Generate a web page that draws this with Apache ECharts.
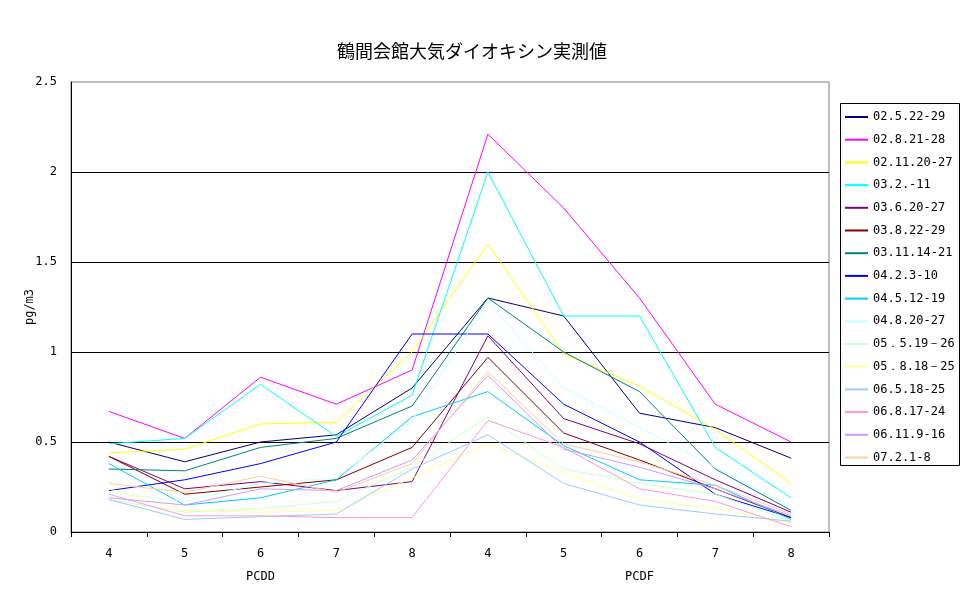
<!DOCTYPE html>
<html><head><meta charset="utf-8">
<script src="https://cdn.jsdelivr.net/npm/echarts@6/dist/echarts.min.js"></script>
<style>html,body{margin:0;padding:0;background:#fff}#c{width:970px;height:604px}</style>
</head><body><div id="c"></div>
<script>
const titleText = '鶴間会館大気ダイオキシン実測値';
const categories = ['4','5','6','7','8','4','5','6','7','8'];
const groups = ['PCDD','PCDF'];
const yTicks = [0, 0.5, 1, 1.5, 2, 2.5];
const seriesNames = ['02.5.22-29','02.8.21-28','02.11.20-27','03.2.-11','03.6.20-27','03.8.22-29','03.11.14-21','04.2.3-10','04.5.12-19','04.8.20-27','05．5.19－26','05．8.18－25','06.5.18-25','06.8.17-24','06.11.9-16','07.2.1-8'];
const colors = ['#000080','#FF00FF','#FFFF00','#00FFFF','#800080','#800000','#008080','#0000FF','#00CCFF','#CCFFFF','#CCFFCC','#FFFF99','#99CCFF','#FF99CC','#CC99FF','#FFCC99'];
const s02_5_22 = [0.50,0.39,0.50,0.54,0.80,1.30,1.20,0.66,0.58,0.41];
const s02_8_21 = [0.67,0.52,0.86,0.71,0.90,2.21,1.80,1.30,0.71,0.50];
const s02_11_20 = [0.44,0.46,0.60,0.61,1.00,1.60,0.99,0.81,0.57,0.27];
const s03_2 = [0.49,0.52,0.82,0.53,0.76,2.00,1.20,1.20,0.47,0.19];
const s03_6_20 = [0.42,0.24,0.28,0.23,0.28,1.09,0.63,0.49,0.29,0.11];
const s03_8_22 = [0.42,0.21,0.25,0.29,0.47,0.97,0.55,0.40,0.24,0.08];
const s03_11_14 = [0.35,0.34,0.47,0.52,0.70,1.30,1.00,0.78,0.35,0.12];
const s04_2_3 = [0.23,0.29,0.38,0.50,1.10,1.10,0.71,0.50,0.21,0.08];
const s04_5_12 = [0.38,0.15,0.19,0.29,0.64,0.78,0.48,0.29,0.26,0.07];
const s04_8_20 = [0.22,0.17,0.27,0.30,0.62,1.28,0.80,0.58,0.36,0.14];
const s05_5_19 = [0.18,0.11,0.13,0.17,0.36,0.64,0.35,0.27,0.21,0.06];
const s05_8_18 = [0.24,0.12,0.11,0.12,0.30,0.49,0.33,0.18,0.13,0.05];
const s06_5_18 = [0.18,0.07,0.085,0.10,0.35,0.54,0.27,0.15,0.10,0.06];
const s06_8_17 = [0.21,0.09,0.09,0.08,0.08,0.62,0.47,0.24,0.17,0.03];
const s06_11_9 = [0.19,0.15,0.24,0.23,0.40,0.87,0.46,0.36,0.24,0.09];
const s07_2_1 = [0.27,0.22,0.31,0.22,0.38,0.89,0.49,0.39,0.26,0.10];
const allValues = [s02_5_22,s02_8_21,s02_11_20,s03_2,s03_6_20,s03_8_22,s03_11_14,s04_2_3,s04_5_12,s04_8_20,s05_5_19,s05_8_18,s06_5_18,s06_8_17,s06_11_9,s07_2_1];

const font = '"DejaVu Sans Mono", monospace';
const chart = echarts.init(document.getElementById('c'), null, {renderer:'canvas'});
chart.setOption({
  animation: false,
  backgroundColor: '#fff',
  title: {text: titleText, left: 332, top: 37, textStyle: {fontFamily: '"Noto Sans CJK JP", sans-serif', fontSize: 18, fontWeight: 'normal', color: '#000'}},
  grid: {left: 71, right: 141, top: 82, bottom: 72, show: true, borderColor: '#808080', borderWidth: 1, containLabel: false},
  legend: {
    orient: 'vertical', left: 845, top: 110, icon: 'rect', itemWidth: 23, itemHeight: 2,
    itemGap: 8.7, padding: 0,
    textStyle: {fontFamily: font, fontSize: 12, color: '#000', lineHeight: 14},
    data: seriesNames
  },
  graphic: [{type: 'rect', shape: {x: 840.5, y: 103.5, width: 119, height: 362}, style: {fill: 'none', stroke: '#000', lineWidth: 1}, z: 100}],
  xAxis: [
    {type: 'category', data: categories, boundaryGap: true,
     axisLine: {lineStyle: {color: '#000', width: 1}},
     axisTick: {show: true, length: 5, lineStyle: {color: '#000'}},
     axisLabel: {color: '#000', fontFamily: font, fontSize: 12, margin: 16},
     splitLine: {show: false}},
    {type: 'category', data: groups, position: 'bottom', offset: 23, gridIndex: 0,
     axisLine: {show: false}, axisTick: {show: false},
     axisLabel: {color: '#000', fontFamily: font, fontSize: 12, margin: 16}}
  ],
  yAxis: {
    type: 'value', min: yTicks[0], max: yTicks[yTicks.length-1], interval: 0.5,
    name: 'pg/m3', nameLocation: 'middle', nameGap: 35, nameRotate: 90, nameMoveOverlap: false,
    nameTextStyle: {fontFamily: font, fontSize: 12, color: '#000'},
    axisLine: {show: true, lineStyle: {color: '#000', width: 1}},
    axisTick: {show: false},
    axisLabel: {color: '#000', fontFamily: font, fontSize: 12, margin: 14},
    splitLine: {show: true, showMaxLine: false, lineStyle: {color: '#000', width: 1}}
  },
  series: seriesNames.map((n, i) => ({
    name: n, type: 'line', data: allValues[i], xAxisIndex: 0,
    showSymbol: false, symbol: 'none',
    lineStyle: {color: colors[i], width: 1}, itemStyle: {color: colors[i]},
    emphasis: {disabled: true}
  }))
});
</script></body></html>
